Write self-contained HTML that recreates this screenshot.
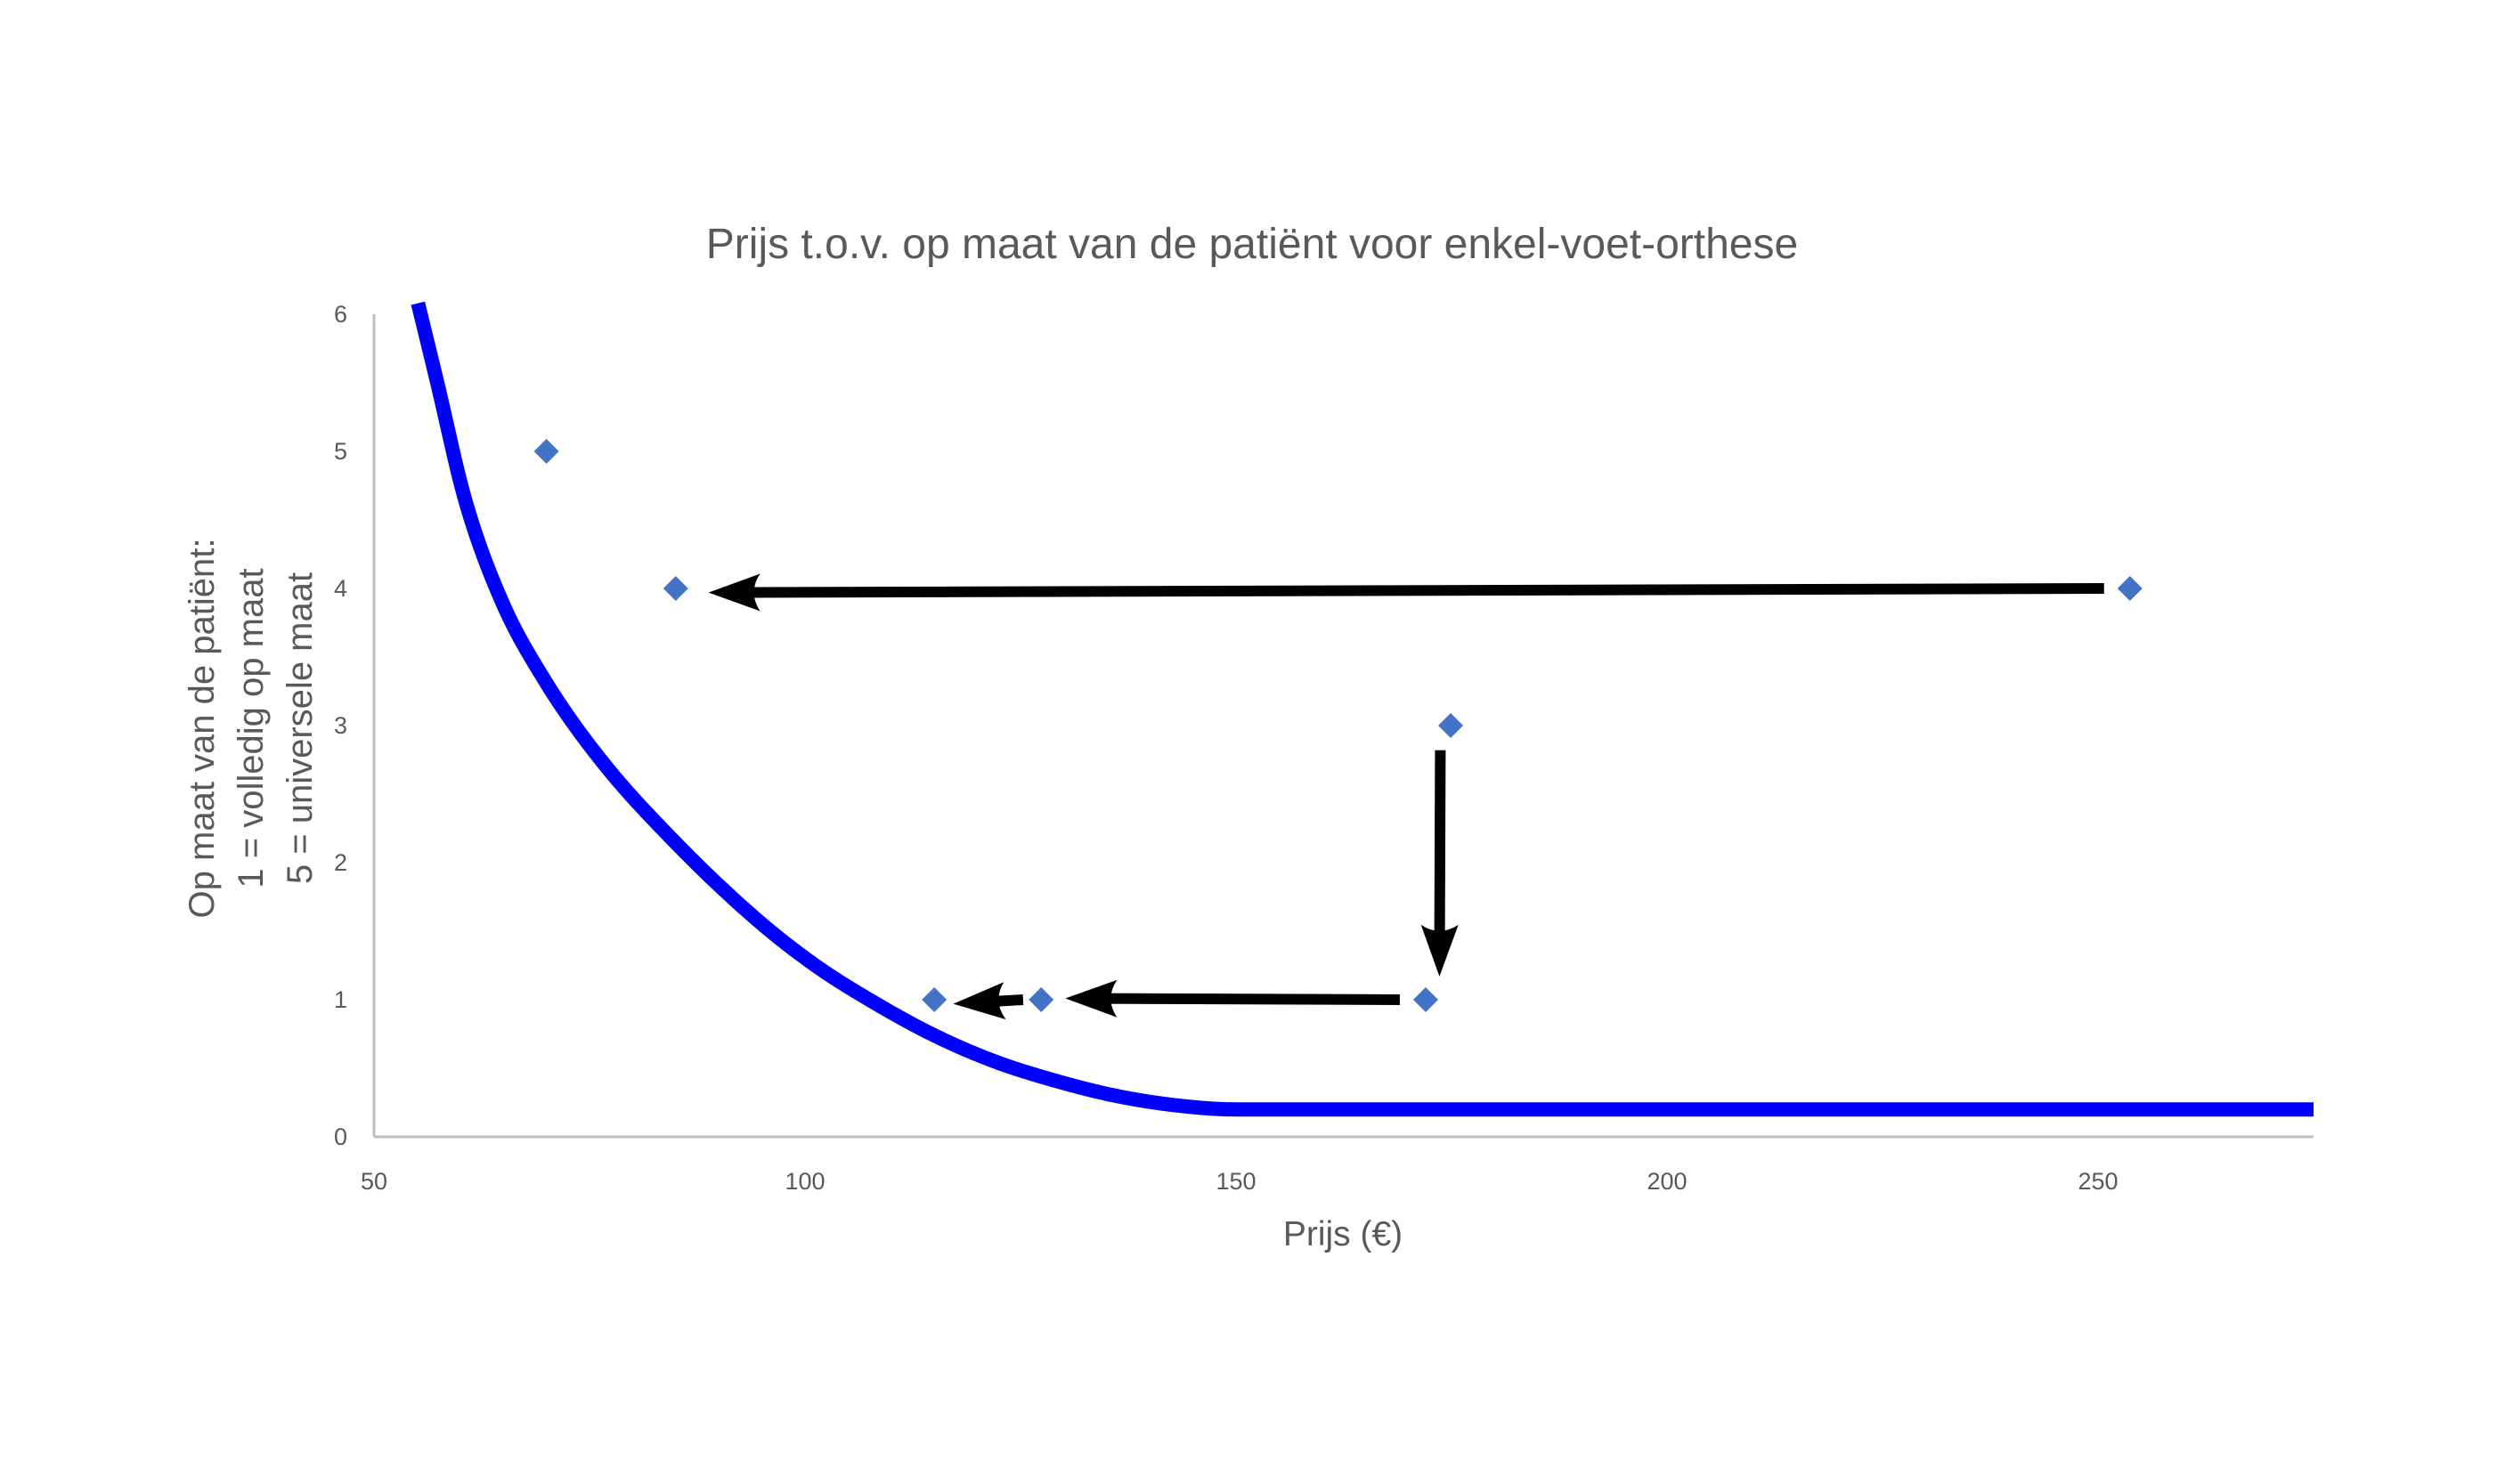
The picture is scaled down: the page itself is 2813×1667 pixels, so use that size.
<!DOCTYPE html>
<html><head><meta charset="utf-8"><style>
html,body{margin:0;padding:0;background:#fff;}
svg{display:block;font-family:"Liberation Sans",sans-serif;}
</style></head><body>
<svg id="chart" width="2813" height="1667" viewBox="0 0 2813 1667">
<rect width="2813" height="1667" fill="#fff"/>
<text x="1406" y="290" text-anchor="middle" font-size="48" fill="#595959">Prijs t.o.v. op maat van de patiënt voor enkel-voet-orthese</text>
<g id="axes"></g>
<g id="curve"></g>
<g id="arrows"></g>
<g id="points"></g>
<text x="1508" y="1399" text-anchor="middle" font-size="39" fill="#595959">Prijs (€)</text>
<g transform="translate(0,818) rotate(-90)">
<text x="0" y="240" text-anchor="middle" font-size="40" fill="#595959">Op maat van de patiënt:</text>
<text x="0" y="295" text-anchor="middle" font-size="40" fill="#595959">1 = volledig op maat</text>
<text x="0" y="350" text-anchor="middle" font-size="40" fill="#595959">5 = universele maat</text>
</g>
</svg>
<script>
const xTicks = [50, 100, 150, 200, 250];
const yTicks = [0, 1, 2, 3, 4, 5, 6];
const curveX = [55.1, 57.3, 60.6, 64.8, 69.8, 76.3, 84.6, 94.3, 101.2, 108, 115, 122, 129, 136, 143, 150, 275];
const curveY = [6.08, 5.51, 4.64, 3.91, 3.33, 2.75, 2.17, 1.59, 1.25, 0.98, 0.74, 0.55, 0.41, 0.3, 0.23, 0.2, 0.2];
const pointX = [70, 85, 253.7, 174.9, 172, 127.4, 115];
const pointY = [5, 4, 4, 3, 1, 1, 1];
const arrowFromX = [250.7, 173.7, 169, 125.3];
const arrowFromY = [4.0, 2.82, 1.0, 1.0];
const arrowToX = [88.8, 173.6, 130.2, 117.2];
const arrowToY = [3.97, 1.17, 1.01, 0.97];

const NS = 'http://www.w3.org/2000/svg';
const X0 = 420, XR = 2598, Y0 = 1277, YT = 353;
const xMin = 50, xMax = 275, yMin = 0, yMax = 6;
function sx(v){ return X0 + (v - xMin) / (xMax - xMin) * (XR - X0); }
function sy(v){ return Y0 - (v - yMin) / (yMax - yMin) * (Y0 - YT); }
function mk(tag, attrs, parent){
  const e = document.createElementNS(NS, tag);
  for (const k in attrs) e.setAttribute(k, attrs[k]);
  parent.appendChild(e); return e;
}
const axes = document.getElementById('axes');
let a = mk('line', {x1:X0, y1:YT, x2:X0, y2:Y0, stroke:'#bfbfbf', 'stroke-width':3}, axes);


a = mk('line', {x1:X0, y1:Y0, x2:XR, y2:Y0, stroke:'#bfbfbf', 'stroke-width':3}, axes);


xTicks.forEach(v => {
  const t = mk('text', {x:sx(v), y:1336, 'text-anchor':'middle', 'font-size':27, fill:'#595959'}, axes);
  t.textContent = v;
  
  
});
yTicks.forEach(v => {
  const t = mk('text', {x:390, y:sy(v)+9, 'text-anchor':'end', 'font-size':27, fill:'#595959'}, axes);
  t.textContent = v;
  
  
});
// monotone cubic interpolation (Fritsch-Carlson), sampled densely
const n = curveX.length;
const dk = [], m = [];
for (let i=0;i<n-1;i++) dk.push((curveY[i+1]-curveY[i])/(curveX[i+1]-curveX[i]));
m.push(dk[0]);
for (let i=1;i<n-1;i++){ m.push(dk[i-1]*dk[i] <= 0 ? 0 : (dk[i-1]+dk[i])/2); }
m.push(dk[n-2]);
for (let i=0;i<n-1;i++){
  if (dk[i] === 0){ m[i]=0; m[i+1]=0; continue; }
  const al = m[i]/dk[i], be = m[i+1]/dk[i], s = al*al+be*be;
  if (s > 9){ const t = 3/Math.sqrt(s); m[i]=t*al*dk[i]; m[i+1]=t*be*dk[i]; }
}
let d = '';
for (let i=0;i<n-1;i++){
  const h = curveX[i+1]-curveX[i];
  const steps = 40;
  for (let s=0;s<=steps;s++){
    if (i>0 && s===0) continue;
    const t = s/steps, t2=t*t, t3=t2*t;
    const y = (2*t3-3*t2+1)*curveY[i] + (t3-2*t2+t)*h*m[i] + (-2*t3+3*t2)*curveY[i+1] + (t3-t2)*h*m[i+1];
    const x = curveX[i] + t*h;
    d += (d ? ' L' : 'M') + sx(x).toFixed(2) + ',' + sy(y).toFixed(2);
  }
}
const cp = mk('path', {d:d, fill:'none', stroke:'#0000ff', 'stroke-width':16, 'stroke-linejoin':'round'}, document.getElementById('curve'));


// arrows
const ag = document.getElementById('arrows');
arrowFromX.forEach((fx,i)=>{
  const x1 = sx(fx), y1 = sy(arrowFromY[i]), x2 = sx(arrowToX[i]), y2 = sy(arrowToY[i]);
  const ang = Math.atan2(y2-y1, x2-x1);
  const L = 58, W = 21, back = 44;
  const bx = x2 - Math.cos(ang)*back, by = y2 - Math.sin(ang)*back;
  const g = mk('g', {}, ag);
  
  
  mk('line', {x1:x1, y1:y1, x2:bx, y2:by, stroke:'#000', 'stroke-width':12}, g);
  const hx = x2 - Math.cos(ang)*L, hy = y2 - Math.sin(ang)*L;
  const px = -Math.sin(ang)*W, py = Math.cos(ang)*W;
  mk('path', {d:'M'+x2+','+y2+' L'+(hx+px)+','+(hy+py)+' Q'+(bx)+','+(by)+' '+(hx-px)+','+(hy-py)+' Z', fill:'#000'}, g);
});
// points
const pg = document.getElementById('points');
pointX.forEach((x,i)=>{
  const cx = sx(x), cy = sy(pointY[i]), r = 14;
  const p = mk('path', {d:'M'+cx+','+(cy-r)+' L'+(cx+r)+','+cy+' L'+cx+','+(cy+r)+' L'+(cx-r)+','+cy+' Z', fill:'#4472c4'}, pg);
  
  
});
</script>
</body></html>
